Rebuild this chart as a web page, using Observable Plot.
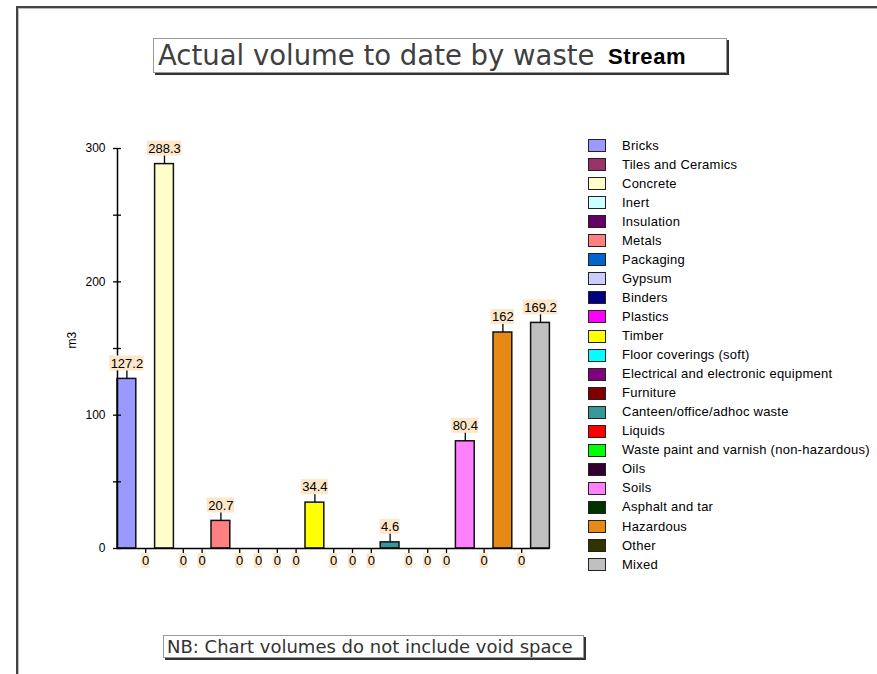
<!DOCTYPE html>
<html>
<head>
<meta charset="utf-8">
<script src="https://cdn.jsdelivr.net/npm/d3@7"></script>
<script src="https://cdn.jsdelivr.net/npm/@observablehq/plot@0.6"></script>
<style>
  body { margin: 0; background: #fff; }
  #wrap { position: relative; width: 877px; height: 674px; overflow: hidden; background: #fff; }
  #frame { position: absolute; left: 16px; top: 6px; width: 900px; height: 700px;
           border-top: 2px solid #444; border-left: 2px solid #444; box-shadow: inset 1px 1px 0 #bbb; }
  #chart { position: absolute; left: 0; top: 0; }
  #title { position: absolute; left: 153px; top: 38px; width: 572px; height: 33px;
           border: 1px solid #999; box-shadow: 2px 2px 0 #333; background: #fff;
           white-space: nowrap; line-height: 33px; }
  #title .t1 { position: absolute; left: 4px; top: 0; font-family: "DejaVu Sans", sans-serif; font-size: 27.5px; color: #3f3f3f; }
  #title .t2 { position: absolute; left: 454px; top: 1px; font-family: "Liberation Sans", Arial, sans-serif; font-weight: bold; font-size: 22px; letter-spacing: 0.6px; color: #000; }
  #note { position: absolute; left: 163px; top: 635px; width: 416px; height: 21px;
          border: 1px solid #999; box-shadow: 2px 2px 0 #333; background: #fff;
          white-space: nowrap; line-height: 21px; font-family: "DejaVu Sans", sans-serif; font-size: 18px; color: #333; padding-left: 3px; box-sizing: content-box; }
  .lg-sw { position: absolute; width: 16px; height: 11px; border: 1.5px solid #222; }
  .lg-tx { position: absolute; font-family: "Liberation Sans", Arial, sans-serif; font-size: 13px; letter-spacing: 0.25px; color: #000; white-space: nowrap; line-height: 14px; }
</style>
</head>
<body>
<div id="wrap">
  <div id="frame"></div>
  <div id="chart"></div>
  <div id="title"><span class="t1">Actual volume to date by waste</span><span class="t2">Stream</span></div>
  <div id="note">NB: Chart volumes do not include void space</div>
  <div id="legend"></div>
</div>
<script>
const categories = [
  "Bricks", "Tiles and Ceramics", "Concrete", "Inert", "Insulation", "Metals",
  "Packaging", "Gypsum", "Binders", "Plastics", "Timber", "Floor coverings (soft)",
  "Electrical and electronic equipment", "Furniture", "Canteen/office/adhoc waste",
  "Liquids", "Waste paint and varnish (non-hazardous)", "Oils", "Soils",
  "Asphalt and tar", "Hazardous", "Other", "Mixed"
];
const volumes = [
  127.2, 0, 288.3, 0, 0, 20.7,
  0, 0, 0, 0, 34.4, 0,
  0, 0, 4.6,
  0, 0, 0, 80.4,
  0, 162, 0, 169.2
];
const colors = [
  "#9999FF", "#993366", "#FFFFCC", "#CCFFFF", "#660066", "#FF8080",
  "#0066CC", "#CCCCFF", "#000080", "#FF00FF", "#FFFF00", "#00FFFF",
  "#800080", "#800000", "#339999",
  "#FF0000", "#00FF00", "#330033", "#FF80FF",
  "#003300", "#E68A14", "#333300", "#C0C0C0"
];
const yTicks = [0, 100, 200, 300];
const yMinorTicks = [50, 150, 250];
const yLabel = "m3";

const W = 877, H = 674, mL = 117, mR = 327.6, mT = 148, mB = 126;
const plotW = W - mL - mR;
const band = plotW / categories.length;
const peach = "#FDE7C9";
const fontStack = "'Liberation Sans', Arial, sans-serif";

const data = categories.map((c, i) => ({cat: c, value: volumes[i], color: colors[i], label: String(volumes[i])}));
const nonZero = data.filter(d => d.value > 0);
const zero = data.filter(d => d.value === 0);

const ctx = document.createElement("canvas").getContext("2d");
ctx.font = "13px 'Liberation Sans'";
const textW = s => ctx.measureText(s).width;

const labelBoxes = nonZero.map(d => {
  const w = textW(d.label) + 2;
  const ins = (band - w) / 2;
  return Plot.barY([d], {x: "cat", y1: "value", y2: "value", fill: peach,
    insetLeft: ins, insetRight: ins, insetTop: -23, insetBottom: 8});
});
const zw = textW("0") + 1;
const zins = (band - zw) / 2;

const chart = Plot.plot({
  width: W, height: H,
  marginLeft: mL, marginRight: mR, marginTop: mT, marginBottom: mB,
  style: {background: "transparent", overflow: "visible", fontFamily: fontStack, fontSize: "13px"},
  x: {type: "band", domain: categories, padding: 0, round: false, axis: null},
  y: {domain: [0, 300], axis: null},
  color: {type: "identity"},
  marks: [
    Plot.barY(data, {x: "cat", y: "value", fill: "color", stroke: "#111", strokeWidth: 1.5}),
    Plot.ruleY([0], {stroke: "#000", strokeWidth: 1.5}),
    Plot.ruleX([categories[0]], {x: d => d, y1: 0, y2: 300, dx: -band / 2, stroke: "#000", strokeWidth: 1.5}),
    Plot.ruleY([...yTicks, ...yMinorTicks], {y: d => d, insetLeft: -4, insetRight: plotW - 4, stroke: "#000", strokeWidth: 1.3}),
    Plot.axisY({ticks: yTicks, tickSize: 0, tickPadding: 12, fontSize: 12, label: null}),
    Plot.text([yLabel], {frameAnchor: "left", dx: -45, rotate: -90, fontSize: 12}),
    ...labelBoxes,
    Plot.ruleX(nonZero, {x: "cat", y1: "value", y2: "value", insetBottom: 8, stroke: "#000", strokeWidth: 1.3}),
    Plot.text(nonZero, {x: "cat", y: "value", text: "label", dy: -15.5, fontSize: 13}),
    Plot.barY(zero, {x: "cat", y1: "value", y2: "value", fill: peach,
      insetLeft: zins, insetRight: zins, insetTop: 5, insetBottom: -20}),
    Plot.ruleX(zero, {x: "cat", y1: "value", y2: "value", insetBottom: -5, stroke: "#000", strokeWidth: 1.3}),
    Plot.text(zero, {x: "cat", y: "value", text: "label", dy: 12.5, fontSize: 13})
  ]
});
document.getElementById("chart").appendChild(chart);

// Legend
const legend = document.getElementById("legend");
categories.forEach((c, i) => {
  const cy = 146 + i * 19.05;
  const sw = document.createElement("div");
  sw.className = "lg-sw";
  sw.style.left = "588px";
  sw.style.top = (cy - 7) + "px";
  sw.style.background = colors[i];
  legend.appendChild(sw);
  const tx = document.createElement("div");
  tx.className = "lg-tx";
  tx.style.left = "622px";
  tx.style.top = (cy - 7.5) + "px";
  tx.textContent = c;
  legend.appendChild(tx);
});
</script>
</body>
</html>
